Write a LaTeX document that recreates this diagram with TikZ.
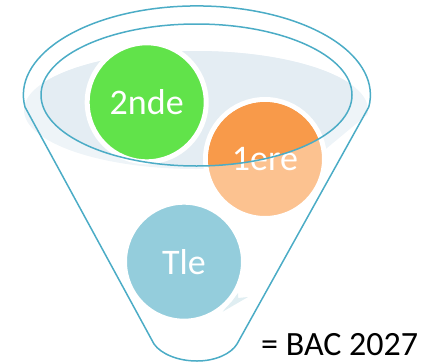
\documentclass[tikz,border=0pt]{standalone}
\usepackage{fontspec}
\setmainfont{Carlito}
\definecolor{funnel}{HTML}{4BACC6}
\definecolor{mistdark}{HTML}{E4EDF3}
\definecolor{mistlight}{HTML}{EEF4F8}
\definecolor{greenball}{HTML}{61E34A}
\definecolor{orangedark}{HTML}{F89A4A}
\definecolor{orangelight}{HTML}{FCC290}
\definecolor{blueball}{HTML}{94CDDC}
\definecolor{tick}{HTML}{E0EEF2}
\tikzset{
  ballbase/.style={circle,draw=white,line width=5pt,minimum size=119pt,inner sep=0pt},
  balltext/.style={text=white,font=\fontsize{36}{40}\selectfont},
  rim/.style={draw=funnel,line width=1.5pt,line join=round}
}
\begin{document}
\begin{tikzpicture}[x=1pt,y=1pt,yscale=-1]
\useasboundingbox (0,0) rectangle (431,362);
% mist
\begin{scope}
  \clip (0,0) -- (431,0) -- (431,100) -- (368,114) -- (327,148) -- (327,200) -- (0,200) -- cycle;
  \fill[mistlight] (196,110) ellipse [x radius=172,y radius=59];
\end{scope}
\begin{scope}
  \clip (196.5,95) ellipse [x radius=155.5,y radius=71];
  \fill[mistdark] (196,110) ellipse [x radius=172,y radius=59];
\end{scope}
% small pointer
\fill[tick] (222.7,311.7) -- (248,297) -- (238,298) -- (238,293) -- (232,300) -- cycle;
% balls
\node[ballbase,fill=blueball,balltext] (tle) at (184,261.7) {Tle};
\node[ballbase,fill=greenball,balltext] (seconde) at (146.7,102.3) {2nde};
\node[ballbase,fill=orangelight] (premierefond) at (265,159) {};
\begin{scope}
  \clip (196.5,95) ellipse [x radius=155.5,y radius=71];
  \fill[orangedark] (265,159) circle [radius=57];
\end{scope}
\node[balltext] (premiere) at (premierefond.center) {1ere};
% funnel
\path[rim] (25,107) arc [start angle=172.2,end angle=367.8,x radius=173.5,y radius=89]
  -- (237,344) .. controls (231,354) and (215,361) .. (197,361)
  .. controls (178,361) and (161,354) .. (154,344) -- cycle;
\draw[rim] (196.5,95) ellipse [x radius=155.5,y radius=71];
% label
\node[anchor=base west,inner sep=0pt,font=\fontsize{34}{38}\selectfont] (bac) at (261,355) {= BAC 2027};
\end{tikzpicture}
\end{document}
